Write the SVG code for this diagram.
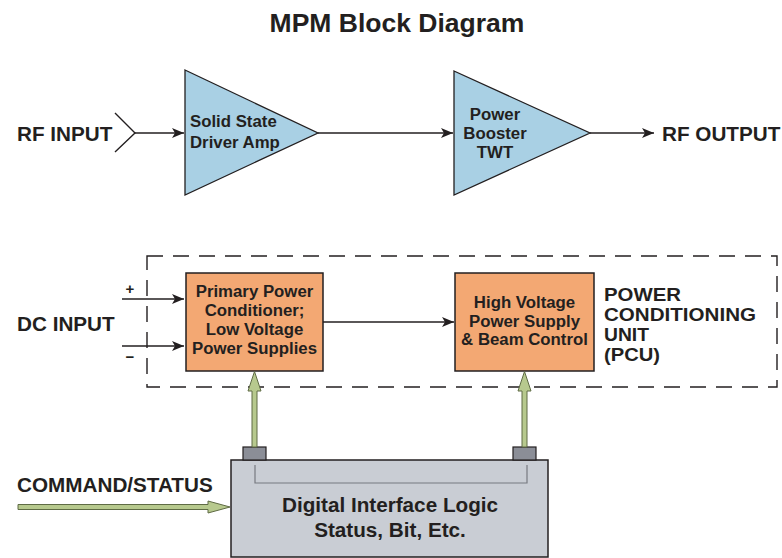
<svg xmlns="http://www.w3.org/2000/svg" width="782" height="558" viewBox="0 0 782 558">
<style>
text{font-family:"Liberation Sans",Arial,sans-serif;font-weight:bold;fill:#231f20}
.lbl{font-size:20.7px}
.pcu{font-size:18px}
.in{font-size:16.8px}
.tri{fill:#a9d0e4;stroke:#231f20;stroke-width:1.3}
.box{fill:#f3a873;stroke:#231f20;stroke-width:1.5}
.line{stroke:#231f20;stroke-width:1.4;fill:none}
.green{fill:#b7c98e;stroke:#5f6b45;stroke-width:1}
.pad{fill:#8b8e97;stroke:#231f20;stroke-width:1.2}
</style>
<defs>
<marker id="ah" markerWidth="12" markerHeight="10" refX="12" refY="5" orient="auto" markerUnits="userSpaceOnUse">
<path d="M0,0 L12,5 L0,10 L3,5 Z" fill="#231f20"/>
</marker>
</defs>
<rect width="782" height="558" fill="#ffffff"/>
<text x="397" y="32" font-size="26.5" text-anchor="middle" fill="#000">MPM Block Diagram</text>

<g id="pcu-boundary">
<rect x="147" y="256" width="630" height="131" fill="none" stroke="#231f20" stroke-width="1.4" stroke-dasharray="16,10"/>
<text class="pcu" x="604" y="301" textLength="77" lengthAdjust="spacingAndGlyphs">POWER</text>
<text class="pcu" x="604" y="321" textLength="152" lengthAdjust="spacingAndGlyphs">CONDITIONING</text>
<text class="pcu" x="604" y="341" textLength="45" lengthAdjust="spacingAndGlyphs">UNIT</text>
<text class="pcu" x="604" y="361" textLength="56" lengthAdjust="spacingAndGlyphs">(PCU)</text>
</g>

<g id="rf-input">
<text class="lbl" x="17" y="141">RF INPUT</text>
<path class="line" d="M115,113 L135,133 L115,152"/>
</g>

<g id="rf-output">
<text class="lbl" x="662" y="141">RF OUTPUT</text>
</g>

<g id="ssa">
<polygon class="tri" points="185,70 318,133 185,195"/>
<text class="in" x="190" y="127">Solid State</text>
<text class="in" x="190" y="148">Driver Amp</text>
</g>

<g id="twt">
<polygon class="tri" points="454,71 590,133 454,195"/>
<text class="in" x="495" y="120" text-anchor="middle">Power</text>
<text class="in" x="495" y="139" text-anchor="middle">Booster</text>
<text class="in" x="495" y="158" text-anchor="middle">TWT</text>
</g>

<g id="dc-input">
<text class="lbl" x="17" y="331">DC INPUT</text>
<text x="130" y="294" font-size="15" text-anchor="middle">+</text>
<text x="130" y="362" font-size="15" text-anchor="middle">−</text>
</g>

<g id="ppc">
<rect class="box" x="186" y="273" width="137" height="98"/>
<text class="in" x="254.5" y="297" text-anchor="middle">Primary Power</text>
<text class="in" x="254.5" y="316" text-anchor="middle">Conditioner;</text>
<text class="in" x="254.5" y="335" text-anchor="middle">Low Voltage</text>
<text class="in" x="254.5" y="354" text-anchor="middle">Power Supplies</text>
</g>

<g id="hvps">
<rect class="box" x="455" y="273" width="139" height="98"/>
<text class="in" x="524.5" y="308" text-anchor="middle">High Voltage</text>
<text class="in" x="524.5" y="327" text-anchor="middle">Power Supply</text>
<text class="in" x="524.5" y="345" text-anchor="middle">&amp; Beam Control</text>
</g>

<g id="command-status">
<text class="lbl" x="17" y="492">COMMAND/STATUS</text>
</g>

<g id="dil">
<rect x="231" y="460" width="317" height="97" fill="#c9cdd4" stroke="#231f20" stroke-width="1.5"/>
<path d="M255,465 L255,483 L527,483 L527,465" fill="none" stroke="#777a80" stroke-width="1.2"/>
<rect class="pad" x="243" y="447" width="23" height="13"/>
<rect class="pad" x="513" y="447" width="23" height="13"/>
<text class="lbl" x="390" y="512" text-anchor="middle">Digital Interface Logic</text>
<text class="lbl" x="390" y="537" text-anchor="middle">Status, Bit, Etc.</text>
</g>

<g id="connectors">
<line class="line" x1="135" y1="133" x2="184" y2="133" marker-end="url(#ah)"/>
<line class="line" x1="318" y1="133" x2="453" y2="133" marker-end="url(#ah)"/>
<line class="line" x1="590" y1="133" x2="654" y2="133" marker-end="url(#ah)"/>
<line class="line" x1="122" y1="299" x2="184" y2="299" marker-end="url(#ah)"/>
<line class="line" x1="122" y1="346" x2="184" y2="346" marker-end="url(#ah)"/>
<line class="line" x1="323" y1="322" x2="454" y2="322" marker-end="url(#ah)"/>
<polygon class="green" points="252,447 252,391 248,391 254.5,371.5 261,391 257,391 257,447"/>
<polygon class="green" points="522,447 522,391 518,391 524.5,371.5 531,391 527,391 527,447"/>
<polygon class="green" points="18,504.5 208,504.5 208,501 230,507 208,513 208,509.5 18,509.5"/>
</g>
</svg>
